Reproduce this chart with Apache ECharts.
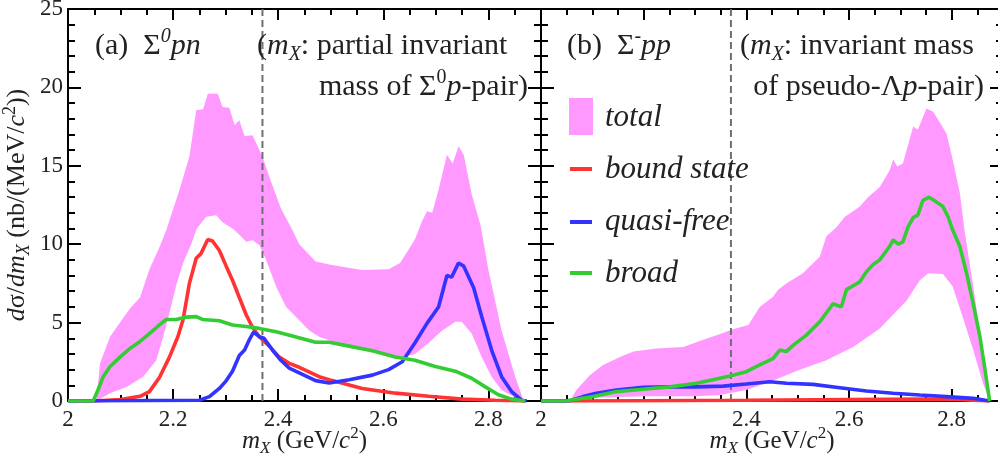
<!DOCTYPE html>
<html><head><meta charset="utf-8">
<script src="https://cdn.jsdelivr.net/npm/echarts@6.0.0/dist/echarts.min.js"></script>
<style>html,body{margin:0;padding:0;background:#fff}#c{width:998px;height:457px}</style>
</head><body><div id="c"></div>
<script>
// ---------- data ----------
const xTickLabels = [2, 2.2, 2.4, 2.6, 2.8];
const yTickLabels = [0, 5, 10, 15, 20, 25];
const legendNames = ['total', 'bound state', 'quasi-free', 'broad'];
const dashedX = 2.37;

// panel (a) Σ0pn
const aBound = [[2.0,0],[2.05,0],[2.10,0.1],[2.137,0.3],[2.155,0.6],[2.174,1.5],[2.193,2.8],[2.209,4.1],[2.219,5.2],[2.231,7.5],[2.244,9.1],[2.253,9.4],[2.266,10.3],[2.275,10.2],[2.288,9.6],[2.301,8.6],[2.313,7.7],[2.326,6.6],[2.339,5.5],[2.351,4.7],[2.364,4.1],[2.383,3.5],[2.402,2.8],[2.421,2.4],[2.44,2.15],[2.478,1.55],[2.503,1.3],[2.56,0.8],[2.623,0.5],[2.686,0.3],[2.75,0.12],[2.813,0.05],[2.87,0]];
const aQuasi = [[2.0,0],[2.25,0.05],[2.269,0.28],[2.288,0.8],[2.30,1.25],[2.313,1.9],[2.326,2.9],[2.336,3.25],[2.345,3.9],[2.353,4.4],[2.364,4.1],[2.373,4.0],[2.389,3.25],[2.405,2.6],[2.421,2.1],[2.44,1.8],[2.471,1.3],[2.497,1.15],[2.535,1.35],[2.579,1.65],[2.61,2.0],[2.636,2.5],[2.66,3.7],[2.683,4.95],[2.705,6.0],[2.721,8.0],[2.73,7.9],[2.743,8.8],[2.753,8.6],[2.772,7.2],[2.787,5.4],[2.806,3.25],[2.825,1.55],[2.844,0.6],[2.863,0.05],[2.873,0]];
const aBroad = [[2.0,0],[2.048,0],[2.057,0.7],[2.067,1.55],[2.08,2.2],[2.099,2.8],[2.118,3.35],[2.137,3.8],[2.155,4.3],[2.174,4.85],[2.187,5.2],[2.206,5.2],[2.225,5.35],[2.244,5.38],[2.256,5.2],[2.288,5.12],[2.313,4.85],[2.339,4.75],[2.364,4.63],[2.396,4.42],[2.427,4.15],[2.471,3.75],[2.497,3.75],[2.535,3.5],[2.579,3.2],[2.623,2.8],[2.66,2.6],[2.699,2.2],[2.737,1.9],[2.768,1.45],[2.794,0.9],[2.819,0.4],[2.844,0.12],[2.87,0]];
const aTotalHigh = [[2.054,0],[2.061,2.4],[2.08,4.1],[2.099,5.0],[2.118,5.9],[2.137,6.6],[2.155,8.4],[2.174,9.8],[2.187,10.9],[2.212,13.45],[2.231,15.6],[2.244,18.55],[2.257,18.6],[2.266,19.6],[2.285,19.6],[2.294,18.75],[2.307,18.7],[2.317,17.6],[2.326,17.9],[2.336,16.9],[2.351,16.95],[2.37,15.6],[2.383,14.3],[2.405,12.3],[2.427,10.9],[2.44,10.0],[2.471,8.9],[2.497,8.7],[2.516,8.6],[2.56,8.35],[2.61,8.4],[2.632,8.8],[2.66,10.3],[2.674,11.5],[2.683,12.1],[2.693,12.0],[2.705,13.45],[2.721,15.7],[2.732,15.15],[2.743,16.25],[2.753,15.7],[2.768,13.2],[2.785,11.2],[2.8,8.35],[2.825,4.5],[2.851,1.55],[2.867,0]];
const aTotalLow = [[2.054,0],[2.08,0.5],[2.111,0.9],[2.143,1.55],[2.168,2.6],[2.181,4.1],[2.193,5.6],[2.206,7.4],[2.219,8.8],[2.235,10.05],[2.245,11.0],[2.263,11.75],[2.282,11.85],[2.294,11.4],[2.313,11.0],[2.326,10.6],[2.339,10.15],[2.351,10.25],[2.364,9.95],[2.377,9.0],[2.396,7.3],[2.415,6.0],[2.44,5.15],[2.459,4.5],[2.478,4.1],[2.503,3.8],[2.56,3.35],[2.623,2.7],[2.66,3.0],[2.686,3.7],[2.712,4.5],[2.724,4.75],[2.737,5.05],[2.749,5.05],[2.768,4.3],[2.787,2.8],[2.806,1.55],[2.825,0.7],[2.851,0.2],[2.867,0]];

// panel (b) Σ-pp
const bBound = [[2.0,0],[2.05,0],[2.2,0.02],[2.4,0.05],[2.6,0.1],[2.75,0.12],[2.82,0.08],[2.874,0]];
const bQuasi = [[2.0,0],[2.05,0],[2.056,0.02],[2.082,0.28],[2.108,0.5],[2.147,0.7],[2.199,0.87],[2.251,0.9],[2.303,0.9],[2.355,0.95],[2.4,1.08],[2.446,1.23],[2.478,1.13],[2.53,1.06],[2.582,0.85],[2.634,0.64],[2.686,0.49],[2.738,0.38],[2.79,0.28],[2.842,0.17],[2.874,0]];
const bBroad = [[2.0,0],[2.05,0],[2.056,0.05],[2.102,0.28],[2.147,0.6],[2.199,0.75],[2.251,0.9],[2.303,1.13],[2.335,1.35],[2.368,1.6],[2.4,1.87],[2.426,2.3],[2.452,2.7],[2.465,3.25],[2.478,3.15],[2.491,3.55],[2.517,4.2],[2.543,5.05],[2.569,6.2],[2.585,6.0],[2.595,7.1],[2.608,7.35],[2.621,7.6],[2.634,8.25],[2.647,8.7],[2.66,9.0],[2.679,9.85],[2.686,10.27],[2.696,10.0],[2.705,10.15],[2.715,11.1],[2.725,11.7],[2.734,11.85],[2.744,12.8],[2.756,13.0],[2.77,12.7],[2.783,12.4],[2.793,11.75],[2.802,10.9],[2.816,9.85],[2.829,8.15],[2.842,6.2],[2.855,4.1],[2.864,2.2],[2.874,0]];
const bTotalHigh = [[2.056,0],[2.069,0.7],[2.095,1.65],[2.121,2.3],[2.154,2.8],[2.18,3.15],[2.225,3.35],[2.277,3.45],[2.316,3.9],[2.342,4.2],[2.374,4.57],[2.404,4.85],[2.426,6.0],[2.452,6.65],[2.462,7.1],[2.478,7.5],[2.51,8.15],[2.543,9.2],[2.556,10.5],[2.576,11.1],[2.592,11.75],[2.608,12.1],[2.621,12.4],[2.637,13.0],[2.66,13.65],[2.679,14.7],[2.686,15.4],[2.694,14.95],[2.705,15.15],[2.725,17.5],[2.734,17.3],[2.751,18.65],[2.764,18.45],[2.78,17.6],[2.79,17.05],[2.802,15.4],[2.816,13.25],[2.825,10.9],[2.832,9.4],[2.845,6.65],[2.858,3.7],[2.871,0.5],[2.874,0]];
const bTotalLow = [[2.056,0],[2.1,0.2],[2.2,0.3],[2.3,0.3],[2.348,0.38],[2.4,0.7],[2.452,1.3],[2.504,2.0],[2.556,2.6],[2.608,3.45],[2.66,4.63],[2.712,6.4],[2.738,7.7],[2.754,8.15],[2.783,8.1],[2.802,7.3],[2.821,5.4],[2.842,3.25],[2.861,1.13],[2.874,0]];

// ---------- styling ----------
const FONT = 'Liberation Serif';
const PINK = '#ff99ff', RED = '#ff3333', BLUE = '#3333ff', GREEN = '#33cc33';
const INK = '#222';

function fmtX(v) {
  const r = Math.round(v * 10) / 10;
  return xTickLabels.indexOf(r) >= 0 && Math.abs(v - r) < 1e-6 ? String(r) : '';
}
function fmtY(v) { return yTickLabels.indexOf(v) >= 0 ? String(v) : ''; }

function axisRich(fs) {
  return {
    i: { fontFamily: FONT, fontStyle: 'italic', fontSize: fs, color: INK, lineHeight: 32 },
    g: { fontFamily: FONT, fontSize: fs, color: INK, lineHeight: 32 },
    sub: { fontFamily: FONT, fontStyle: 'italic', fontSize: Math.round(fs * 0.68), color: INK, lineHeight: 19, verticalAlign: 'bottom' },
    sup: { fontFamily: FONT, fontSize: Math.round(fs * 0.68), color: INK, lineHeight: 19, verticalAlign: 'top' }
  };
}

function xAxes(grid, withName) {
  const base = {
    type: 'value', gridIndex: grid, min: 2, max: 2.9, splitLine: { show: false },
    axisLine: { show: true, onZero: false, lineStyle: { color: '#000', width: 2 } },
    axisLabel: { show: false }
  };
  return [
    Object.assign({}, base, {
      position: 'bottom', interval: 0.2,
      axisTick: { inside: true, length: 12, lineStyle: { color: '#000', width: 2 } },
      axisLabel: { show: true, formatter: fmtX, fontFamily: FONT, fontSize: 23, color: INK, margin: 7,
                   showMinLabel: true, showMaxLabel: true, hideOverlap: false },
      name: withName ? '{i|m}{sub|X}{g| (GeV/}{i|c}{sup|2}{g|)}' : '',
      nameLocation: 'middle', nameGap: 24, nameMoveOverlap: false,
      nameTextStyle: { fontFamily: FONT, fontSize: 25, color: INK, lineHeight: 32, rich: axisRich(25) }
    }),
    Object.assign({}, base, {
      position: 'top', interval: 0.2,
      axisTick: { inside: true, length: 11, lineStyle: { color: '#000', width: 2 } }
    }),
    Object.assign({}, base, {
      position: 'bottom', interval: 0.05, axisLine: { show: false, onZero: false },
      axisTick: { inside: true, length: 6, lineStyle: { color: '#000', width: 2 } }
    }),
    Object.assign({}, base, {
      position: 'top', interval: 0.05, axisLine: { show: false, onZero: false },
      axisTick: { inside: true, length: 6, lineStyle: { color: '#000', width: 2 } }
    })
  ];
}
function yAxes(grid, withLabels) {
  const base = {
    type: 'value', gridIndex: grid, min: 0, max: 25, interval: 5, splitLine: { show: false },
    axisLine: { show: true, onZero: false, lineStyle: { color: '#000', width: 2 } },
    axisTick: { inside: true, length: 13, lineStyle: { color: '#000', width: 2 } },
    minorTick: { show: true, splitNumber: 5, length: 7, lineStyle: { color: '#000', width: 2 } },
    minorSplitLine: { show: false }
  };
  return [
    Object.assign({}, base, {
      position: 'left',
      axisLabel: { show: withLabels, formatter: fmtY, fontFamily: FONT, fontSize: 23, color: INK, margin: 5 },
      name: withLabels ? '{i|d}{g|σ/}{i|dm}{sub|X}{g| (nb/(MeV/}{i|c}{sup|2}{g|))}' : '',
      nameLocation: 'middle', nameGap: 35, nameMoveOverlap: false,
      nameTextStyle: { fontFamily: FONT, fontSize: 26, color: INK, lineHeight: 32, rich: axisRich(26) }
    }),
    Object.assign({}, base, { position: 'right', axisLabel: { show: false } })
  ];
}

function band(xi, yi, high, low) {
  return {
    type: 'custom', xAxisIndex: xi, yAxisIndex: yi, data: [[high[0][0], 0]], z: 1, silent: true,
    renderItem: function (params, api) {
      const pts = high.map(p => api.coord(p)).concat(low.slice().reverse().map(p => api.coord(p)));
      return { type: 'polygon', shape: { points: pts }, style: { fill: PINK, stroke: null } };
    }
  };
}
function curve(xi, yi, data, color, name) {
  return { type: 'line', name: name, xAxisIndex: xi, yAxisIndex: yi, data: data, symbol: 'none', showSymbol: false,
           lineStyle: { color: color, width: 3.6 }, z: 4, silent: true };
}
function dashed(xi, yi) {
  return { type: 'line', xAxisIndex: xi, yAxisIndex: yi, data: [[dashedX, 0], [dashedX, 25]], symbol: 'none',
           lineStyle: { color: '#707070', width: 2, type: [7, 4] }, z: 3, silent: true };
}

const TS = 30;
const txtRich = {
  n: { fontFamily: FONT, fontSize: TS, color: INK, lineHeight: 38 },
  i: { fontFamily: FONT, fontSize: TS, fontStyle: 'italic', color: INK, lineHeight: 38 },
  sub: { fontFamily: FONT, fontSize: 20, fontStyle: 'italic', color: INK, lineHeight: 21, verticalAlign: 'bottom' },
  sup: { fontFamily: FONT, fontSize: 20, color: INK, lineHeight: 21, verticalAlign: 'top' },
  supi: { fontFamily: FONT, fontSize: 20, fontStyle: 'italic', color: INK, lineHeight: 21, verticalAlign: 'top' }
};
function label(text, x, y, align) {
  return { type: 'text', x: x, y: y, z: 10, silent: true,
    style: { text: text, rich: txtRich, fontFamily: FONT, fontSize: TS, fill: INK,
             textAlign: align || 'left', textVerticalAlign: 'middle' } };
}
function legText(text, y) {
  return { type: 'text', x: 605, y: y, z: 10, silent: true,
    style: { text: text, fontFamily: FONT, fontSize: 31, fontStyle: 'italic', fill: INK, textVerticalAlign: 'middle' } };
}

const option = {
  animation: false,
  backgroundColor: '#fff',
  grid: [
    { left: 68, top: 9, width: 473, height: 392, outerBoundsMode: 'none', containLabel: false },
    { left: 541, top: 9, width: 462, height: 392, outerBoundsMode: 'none', containLabel: false }
  ],
  xAxis: xAxes(0, true).concat(xAxes(1, true)),
  yAxis: yAxes(0, true).concat(yAxes(1, false)),
  series: [
    band(0, 0, aTotalHigh, aTotalLow),
    dashed(0, 0),
    curve(0, 0, aBound, RED, legendNames[1]),
    curve(0, 0, aQuasi, BLUE, legendNames[2]),
    curve(0, 0, aBroad, GREEN, legendNames[3]),
    band(4, 2, bTotalHigh, bTotalLow),
    dashed(4, 2),
    curve(4, 2, bBound, RED, legendNames[1]),
    curve(4, 2, bQuasi, BLUE, legendNames[2]),
    curve(4, 2, bBroad, GREEN, legendNames[3])
  ],
  graphic: [
    label('{n|(a)  Σ}{supi|0}{i|pn}', 95, 46),
    label('{n|(}{i|m}{sub|X}{n|: partial invariant}', 257, 46),
    label('{n|mass of Σ}{sup|0}{i|p}{n|-pair)}', 528, 87, 'right'),
    label('{n|(b)  Σ}{sup|-}{i|pp}', 567, 46),
    label('{n|(}{i|m}{sub|X}{n|: invariant mass}', 740, 46),
    label('{n|of pseudo-Λ}{i|p}{n|-pair)}', 984, 87, 'right'),
    { type: 'rect', shape: { x: 569, y: 98, width: 24, height: 37 }, style: { fill: PINK }, z: 10, silent: true },
    { type: 'rect', shape: { x: 570, y: 167, width: 22, height: 4 }, style: { fill: RED }, z: 10, silent: true },
    { type: 'rect', shape: { x: 570, y: 220, width: 22, height: 4 }, style: { fill: BLUE }, z: 10, silent: true },
    { type: 'rect', shape: { x: 570, y: 271, width: 22, height: 4 }, style: { fill: GREEN }, z: 10, silent: true },
    legText(legendNames[0], 118),
    legText(legendNames[1], 170),
    legText(legendNames[2], 222),
    legText(legendNames[3], 274)
  ]
};
const chart = echarts.init(document.getElementById('c'), null, { renderer: 'canvas' });
chart.setOption(option);
</script></body></html>
